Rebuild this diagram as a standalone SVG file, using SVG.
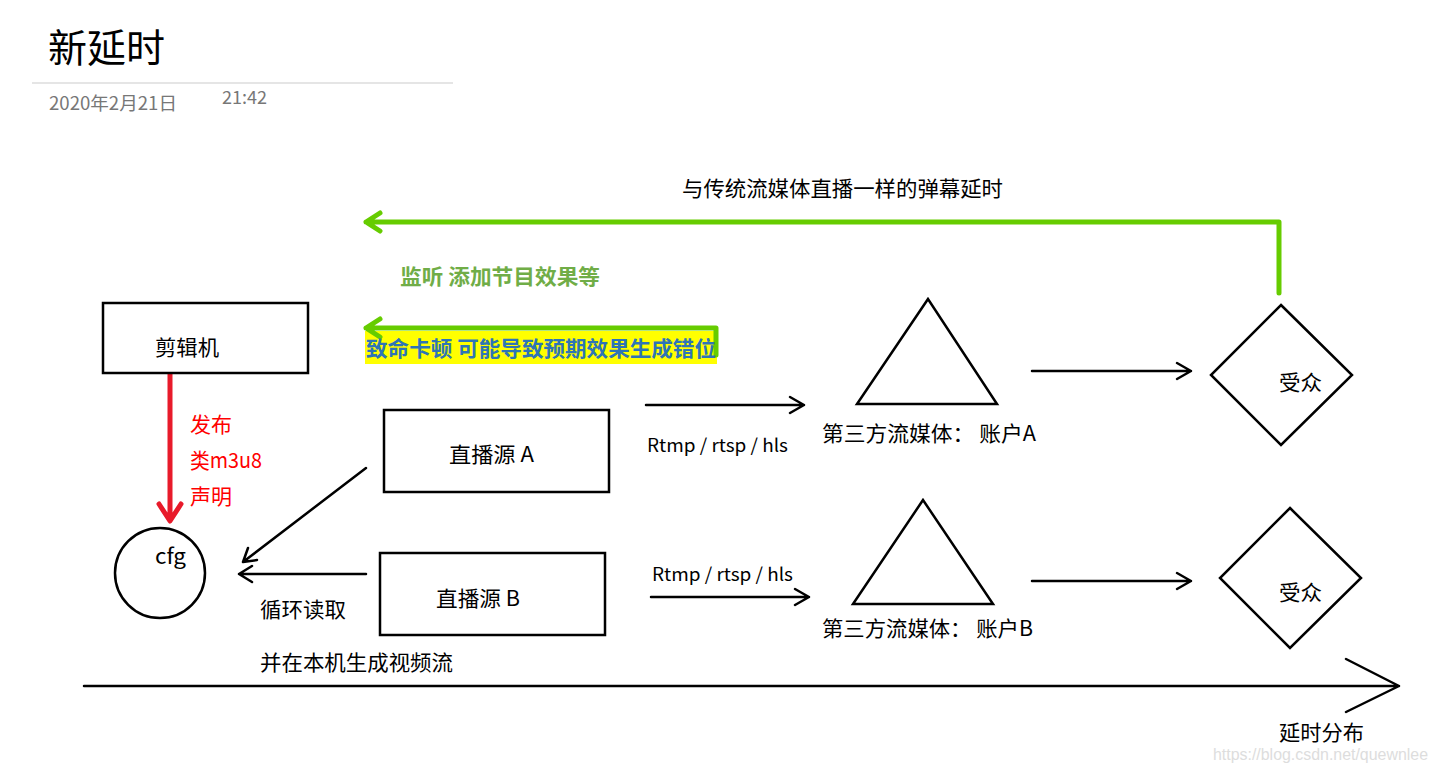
<svg xmlns="http://www.w3.org/2000/svg" width="1437" height="773" viewBox="0 0 1437 773">
<defs>
<style>
text{font-family:"Noto Sans CJK SC","Noto Sans",sans-serif;fill:#000;}
.k{fill:none;stroke:#000;stroke-width:2.5;stroke-linecap:round;stroke-linejoin:round;}
.g{fill:none;stroke:#66cc00;stroke-width:5;stroke-linecap:round;stroke-linejoin:round;}
.r{fill:none;stroke:#e81a2a;stroke-width:5;stroke-linecap:round;stroke-linejoin:round;}
.shape{fill:#fff;stroke:#000;stroke-width:2.5;}
.lbl{font-size:21px;}
.red{fill:#ff0000;font-size:21px;}
</style>
</defs>
<rect width="1437" height="773" fill="#fff"/>
<g id="header">
<text x="48" y="62" font-size="39">新延时</text>
<line x1="32" y1="83" x2="453" y2="83" stroke="#dcdcdc" stroke-width="1.5"/>
<text x="49" y="110" font-size="18" textLength="128" lengthAdjust="spacingAndGlyphs" style="fill:#777">2020年2月21日</text>
<text x="222" y="104" font-size="18" textLength="45" lengthAdjust="spacingAndGlyphs" style="fill:#777">21:42</text>
</g>
<g id="connectors">
<path class="g" d="M1279,293 V222 H366 M380,213 L366,222 L380,231"/>
<rect x="365" y="331" width="352" height="33" fill="#ffff00"/>
<path class="g" d="M716,355 V328 H366 M380,319 L366,328 L380,337"/>
<path class="r" d="M170,373 V520 M159,504 L170,521 L181,504"/>
<path class="k" d="M366,468 L243,562 M248,548 L243,562 L257,560"/>
<path class="k" d="M366,574 H239 M252,566 L239,574 L252,582"/>
<path class="k" d="M646,405 H804 M790,397 L804,405 L790,413"/>
<path class="k" d="M1032,371 H1191 M1177,363 L1191,371 L1177,379"/>
<path class="k" d="M651,597 H809 M795,589 L809,597 L795,605"/>
<path class="k" d="M1032,581 H1191 M1177,573 L1191,581 L1177,589"/>
<path class="k" d="M84,686 H1399 M1346,659 L1399,686 L1346,712"/>
</g>
<g id="labels">
<text x="682" y="196" font-size="21" textLength="321" lengthAdjust="spacingAndGlyphs">与传统流媒体直播一样的弹幕延时</text>
<text x="400" y="284" font-size="21" font-weight="bold" textLength="200" lengthAdjust="spacingAndGlyphs" style="fill:#70ad47">监听 添加节目效果等</text>
<text x="366" y="356" font-size="21" font-weight="bold" textLength="350" lengthAdjust="spacingAndGlyphs" style="fill:#2e75b6">致命卡顿 可能导致预期效果生成错位</text>
<text x="190" y="432" class="red">发布</text>
<text x="190" y="468" class="red" textLength="72" lengthAdjust="spacingAndGlyphs">类m3u8</text>
<text x="190" y="504" class="red">声明</text>
<text x="260" y="617" class="lbl" textLength="86" lengthAdjust="spacingAndGlyphs">循环读取</text>
<text x="260" y="670" class="lbl" textLength="193" lengthAdjust="spacingAndGlyphs">并在本机生成视频流</text>
<text x="647" y="452" font-size="18" textLength="141" lengthAdjust="spacingAndGlyphs">Rtmp / rtsp / hls</text>
<text x="652" y="581" font-size="18" textLength="141" lengthAdjust="spacingAndGlyphs">Rtmp / rtsp / hls</text>
<text x="1279" y="740" class="lbl" textLength="85" lengthAdjust="spacingAndGlyphs">延时分布</text>
<text x="1213" y="760" font-size="16" textLength="215" lengthAdjust="spacingAndGlyphs" style="fill:#dddddd;font-family:'Liberation Sans',sans-serif">https://blog.csdn.net/quewnlee</text>
</g>
<g id="editor">
<rect class="shape" x="103" y="303" width="205" height="70"/>
<text x="155" y="355" class="lbl" textLength="64" lengthAdjust="spacingAndGlyphs">剪辑机</text>
</g>
<g id="cfg">
<circle class="shape" cx="160" cy="573" r="45"/>
<text x="155" y="564" class="lbl" textLength="31" lengthAdjust="spacingAndGlyphs">cfg</text>
</g>
<g id="sourceA">
<rect class="shape" x="384" y="410" width="225" height="82"/>
<text x="449" y="462" font-size="21" textLength="85" lengthAdjust="spacingAndGlyphs">直播源 A</text>
</g>
<g id="sourceB">
<rect class="shape" x="380" y="553" width="225" height="82"/>
<text x="436" y="606" font-size="21" textLength="84" lengthAdjust="spacingAndGlyphs">直播源 B</text>
</g>
<g id="mediaA">
<polygon class="shape" points="928,299 857,404 997,404"/>
<text x="822" y="441" class="lbl" textLength="214" lengthAdjust="spacingAndGlyphs">第三方流媒体：  账户A</text>
</g>
<g id="mediaB">
<polygon class="shape" points="923,500 853,604 993,604"/>
<text x="822" y="636" class="lbl" textLength="211" lengthAdjust="spacingAndGlyphs">第三方流媒体：  账户B</text>
</g>
<g id="audienceA">
<polygon class="shape" points="1281,305 1352,375 1281,445 1211,375"/>
<text x="1279" y="390" class="lbl" textLength="43" lengthAdjust="spacingAndGlyphs">受众</text>
</g>
<g id="audienceB">
<polygon class="shape" points="1290,508 1361,578 1290,648 1220,578"/>
<text x="1279" y="600" class="lbl" textLength="43" lengthAdjust="spacingAndGlyphs">受众</text>
</g>
</svg>
